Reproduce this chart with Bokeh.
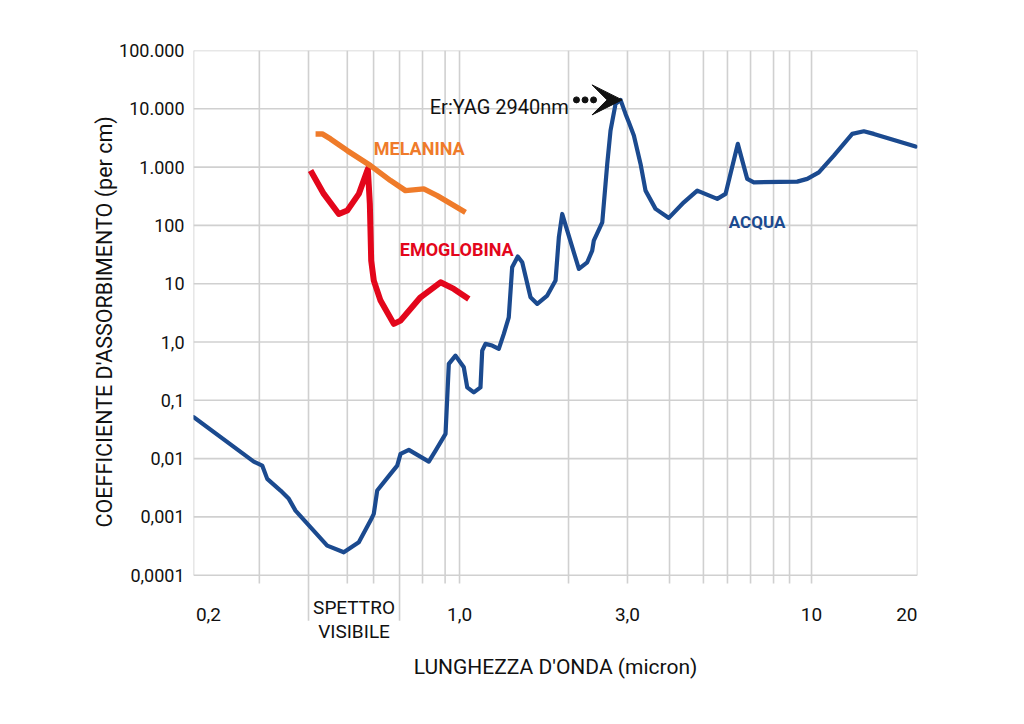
import numpy as np
from bokeh.plotting import figure
from bokeh.models import FixedTicker, Title, Arrow, VeeHead, Range1d, ColumnDataSource
from bokeh.core.properties import value
from bokeh.embed import file_html
from bokeh.resources import INLINE

FONT = "Roboto"

# ---------------- data (wavelength in micron, absorption per cm) ----------------
acqua_um = [0.1758, 0.2603, 0.2751, 0.2843, 0.3101, 0.3274, 0.342, 0.4208, 0.469, 0.5175,
            0.5586, 0.5708, 0.5837, 0.6368, 0.6653, 0.6799, 0.7178, 0.818, 0.855, 0.9125,
            0.9324, 0.974, 1.0285, 1.0517, 1.098, 1.147, 1.16, 1.185, 1.238, 1.293,
            1.336, 1.380, 1.411, 1.464, 1.507, 1.591, 1.663, 1.775, 1.874, 1.915,
            1.958, 2.023, 2.183, 2.306, 2.382, 2.407, 2.544, 2.599, 2.628, 2.685,
            2.775, 2.867, 2.962, 3.027, 3.128, 3.268, 3.376, 3.605, 3.932, 4.338,
            4.735, 5.397, 5.698, 6.173, 6.566, 6.856, 9.107, 9.723, 10.49, 11.57,
            13.05, 14.08, 15.03, 19.75]
acqua_abs = [0.0515, 0.00889, 0.00759, 0.00449, 0.00283, 0.00204, 0.00128, 0.000322, 0.000247, 0.000367,
             0.000865, 0.00113, 0.00283, 0.00547, 0.00759, 0.01205, 0.0141, 0.00889, 0.01372, 0.02653,
             0.421, 0.584, 0.368, 0.167, 0.137, 0.167, 0.712, 0.928, 0.868, 0.762,
             1.377, 2.653, 19.1, 29.2, 23.3, 5.84, 4.50, 6.25, 11.3, 62.5,
             157, 81.4, 17.9, 23.3, 36.9, 54.9, 113, 515, 1135, 4227,
             12130, 14220, 8170, 5866, 3469, 1135, 395, 192, 134.5, 249,
             395, 285, 347, 2500, 628, 549, 564, 628, 814, 1574,
             3710, 4112, 3710, 2248]

emoglobina_um = [0.3774, 0.4116, 0.4541, 0.4797, 0.5175, 0.549, 0.5562, 0.5612, 0.5708, 0.5964,
                 0.6505, 0.6799, 0.7747, 0.8832, 0.9634, 1.0627]
emoglobina_abs = [871, 347, 157, 179.5, 347, 931, 234, 24.9, 11.3, 5.13,
                  2.045, 2.33, 5.84, 10.57, 8.14, 5.49]

melanina_um = [0.390, 0.4074, 0.430, 0.4797, 0.5586, 0.6368, 0.7024, 0.7916, 0.8642, 1.040]
melanina_abs = [3710, 3710, 3047, 1919, 1061, 587, 395, 423, 324, 168]

y_ticks = [1e-4, 1e-3, 1e-2, 1e-1, 1.0, 10.0, 100.0, 1e3, 1e4, 1e5]
y_tick_labels = ["0,0001", "0,001", "0,01", "0,1", "1,0", "10", "100", "1.000", "10.000", "100.000"]
x_label_values = [0.2, 1.0, 3.0, 10.0, 20.0]
x_label_texts = ["0,2", "1,0", "3,0", "10", "20"]
x_grid = [0.27, 0.3724, 0.48, 0.57, 0.6755, 0.785, 0.91, 1.0, 2.04, 3.0,
          3.95, 4.93, 5.77, 6.71, 7.8, 8.66, 10.0]
visible_band = [0.3724, 0.6755]

X_MIN, X_MAX = 0.1755, 20.0
Y_MIN, Y_MAX = 7.586e-6, 1e5
TICK_END = 7.2e-5      # bottom of short ticks below the frame
BAND_END = 1.66e-5     # bottom of the "spettro visibile" ticks

GRID = "#d0d0d0"
BLUE = "#1b4a8f"
RED = "#e3061b"
ORANGE = "#ef7b2a"
INK = "#111111"

p = figure(x_axis_type="log", y_axis_type="log",
           x_range=Range1d(X_MIN, X_MAX), y_range=Range1d(Y_MIN, Y_MAX),
           frame_width=724, frame_height=590,
           min_border_left=193, min_border_right=95, min_border_top=50, min_border_bottom=70,
           output_backend="svg", toolbar_location=None)
p.outline_line_color = None
p.xgrid.visible = False
p.ygrid.visible = False

# horizontal grid lines at the decades
p.segment(x0=[X_MIN] * len(y_ticks), x1=[X_MAX] * len(y_ticks), y0=y_ticks, y1=y_ticks,
          line_color=GRID, line_width=1.6)
# vertical grid lines, extended below the frame as ticks
vx = [X_MIN] + x_grid + [X_MAX]
vbot = [1e-4] + [BAND_END if g in visible_band else TICK_END for g in x_grid] + [1e-4]
p.segment(x0=vx, x1=vx, y0=vbot, y1=[Y_MAX] * len(vx), line_color=GRID, line_width=1.6)

# curves
p.line(acqua_um, acqua_abs, line_color=BLUE, line_width=4.2, line_join="round", line_cap="round")
p.line(emoglobina_um, emoglobina_abs, line_color=RED, line_width=6, line_join="round", line_cap="butt")
p.line(melanina_um, melanina_abs, line_color=ORANGE, line_width=5.5, line_join="round", line_cap="butt")

# x tick labels
xl = ColumnDataSource(dict(x=x_label_values, y=[2.11e-5] * 5, t=x_label_texts,
                           a=["center", "center", "center", "center", "right"],
                           off=[-5, 0, 0, 0, 0]))
p.text(x="x", y="y", text="t", text_align="a", x_offset="off", source=xl,
       text_font=value(FONT), text_font_size="19px", text_color=INK,
       text_baseline="alphabetic")

# spettro visibile
mid = float(np.sqrt(visible_band[0] * visible_band[1]))
p.text(x=[mid, mid], y=[2.78e-5, 1.07e-5], text=["SPETTRO", "VISIBILE"],
       text_font=value(FONT), text_font_size="19px", text_color=INK,
       text_align="center", text_baseline="alphabetic")

# series labels
p.text(x=[0.5708], y=[2076], text=["MELANINA"], text_font=value(FONT), text_font_size="18px",
       text_font_style="bold", text_color=ORANGE, text_baseline="alphabetic")
p.text(x=[0.6766], y=[38.0], text=["EMOGLOBINA"], text_font=value(FONT), text_font_size="18px",
       text_font_style="bold", text_color=RED, text_baseline="alphabetic")
p.text(x=[5.82], y=[113], text=["ACQUA"], text_font=value(FONT), text_font_size="17px",
       text_font_style="bold", text_color=BLUE, text_baseline="alphabetic")

# Er:YAG annotation
peak_i = int(np.argmax(acqua_abs))
peak_x, peak_y = acqua_um[peak_i], acqua_abs[peak_i]
p.text(x=[2.045], y=[10610], text=["Er:YAG 2940nm"], text_font=value(FONT), text_font_size="20px",
       text_color=INK, text_align="right", text_baseline="alphabetic")
p.scatter(x=[2.149, 2.273, 2.403], y=[peak_y] * 3, size=6, color=INK)
p.add_layout(Arrow(end=VeeHead(size=30, fill_color=INK, line_color=INK),
                   x_start=2.36, y_start=peak_y, x_end=peak_x * 1.01, y_end=peak_y,
                   line_alpha=0))

# y axis
p.yaxis.ticker = FixedTicker(ticks=y_ticks)
p.yaxis.major_label_overrides = dict(zip(y_ticks, y_tick_labels))
p.yaxis.axis_line_color = None
p.yaxis.major_tick_line_color = None
p.yaxis.minor_tick_line_color = None
p.yaxis.major_tick_out = 0
p.yaxis.minor_tick_out = 0
p.yaxis.major_label_standoff = 9
p.yaxis.major_label_text_font = FONT
p.yaxis.major_label_text_font_size = "18px"
p.yaxis.major_label_text_color = INK

ytitle = Title(text="COEFFICIENTE D'ASSORBIMENTO (per cm)", align="left", offset=113,
               standoff=0, text_font=FONT, text_font_size="21.5px",
               text_font_style="normal", text_color=INK)
p.add_layout(ytitle, "left")

# x axis (title only)
p.xaxis.ticker = FixedTicker(ticks=[])
p.xaxis.axis_line_color = None
p.xaxis.major_tick_out = 0
p.xaxis.minor_tick_out = 0
p.xaxis.major_label_standoff = 0
p.xaxis.axis_label = "LUNGHEZZA D'ONDA (micron)"
p.xaxis.axis_label_standoff = 14
p.xaxis.axis_label_text_font = FONT
p.xaxis.axis_label_text_font_size = "21px"
p.xaxis.axis_label_text_font_style = "normal"
p.xaxis.axis_label_text_color = INK

open("out.html", "w").write(file_html(p, INLINE))
